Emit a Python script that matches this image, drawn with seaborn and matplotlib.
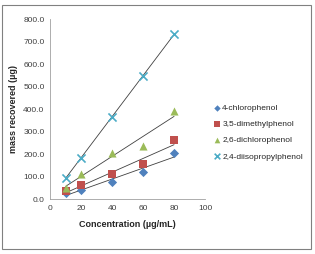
import numpy as np
import pandas as pd
import matplotlib
matplotlib.use("Agg")
import matplotlib.pyplot as plt
import seaborn as sns

conc = [10, 20, 40, 60, 80]
chloro = [28, 40, 75, 120, 205]
dimethyl = [35, 62, 112, 155, 262]
dichloro = [50, 112, 205, 235, 390]
diisopropyl = [95, 182, 365, 545, 735]
series_names = ["4-chlorophenol", "3,5-dimethylphenol", "2,6-dichlorophenol", "2,4-diisopropylphenol"]
colors = ["#4F81BD", "#C0504D", "#9BBB59", "#4BACC6"]
markers = ["D", "s", "^", "x"]
sizes = [22, 34, 34, 34]

sns.set_style("white")
plt.rcParams['font.family'] = ['Liberation Sans Narrow', 'Liberation Sans', 'DejaVu Sans']

fig = plt.figure(figsize=(3.15, 2.54), dpi=100)
ax = fig.add_axes([0.159, 0.2165, 0.492, 0.7085])

data = [chloro, dimethyl, dichloro, diisopropyl]
for name, vals, c, m, s in zip(series_names, data, colors, markers, sizes):
    df = pd.DataFrame({"x": conc, "y": vals})
    sns.regplot(data=df, x="x", y="y", ax=ax, ci=None, scatter=False,
                line_kws=dict(color="#404040", lw=0.6))
    kw = dict(linewidth=1.2) if m == "x" else dict(linewidth=0)
    sns.scatterplot(data=df, x="x", y="y", ax=ax, color=c, marker=m, s=s,
                    label=name, zorder=3, **kw)

ax.set_xlim(0, 100)
ax.set_ylim(0, 800)
ax.set_xticks([0, 20, 40, 60, 80, 100])
ax.set_yticks(np.arange(0, 801, 100))
ax.set_yticklabels([f"{v:.1f}" for v in np.arange(0, 801, 100)])
ax.tick_params(axis='both', labelsize=6, length=0, pad=4, colors="#404040")
for sp in ["top", "right"]:
    ax.spines[sp].set_visible(False)
for sp in ["left", "bottom"]:
    ax.spines[sp].set_color("#A0A0A0")
    ax.spines[sp].set_linewidth(0.6)
ax.set_xlabel("Concentration (µg/mL)", fontsize=6.5, fontweight="bold", labelpad=6)
ax.set_ylabel("mass recovered (µg)", fontsize=6.5, fontweight="bold", labelpad=4)

leg = ax.legend(loc="center left", bbox_to_anchor=(1.03, 0.37), frameon=False,
                fontsize=6, handletextpad=0.1, labelspacing=1.0, markerscale=0.7,
                borderaxespad=0, handlelength=1.0)

border = plt.Rectangle((0.006, 0.02), 0.98, 0.96, transform=fig.transFigure,
                       fill=False, edgecolor="#808080", lw=0.8)
fig.patches.append(border)

fig.savefig("out.png", dpi=100)
